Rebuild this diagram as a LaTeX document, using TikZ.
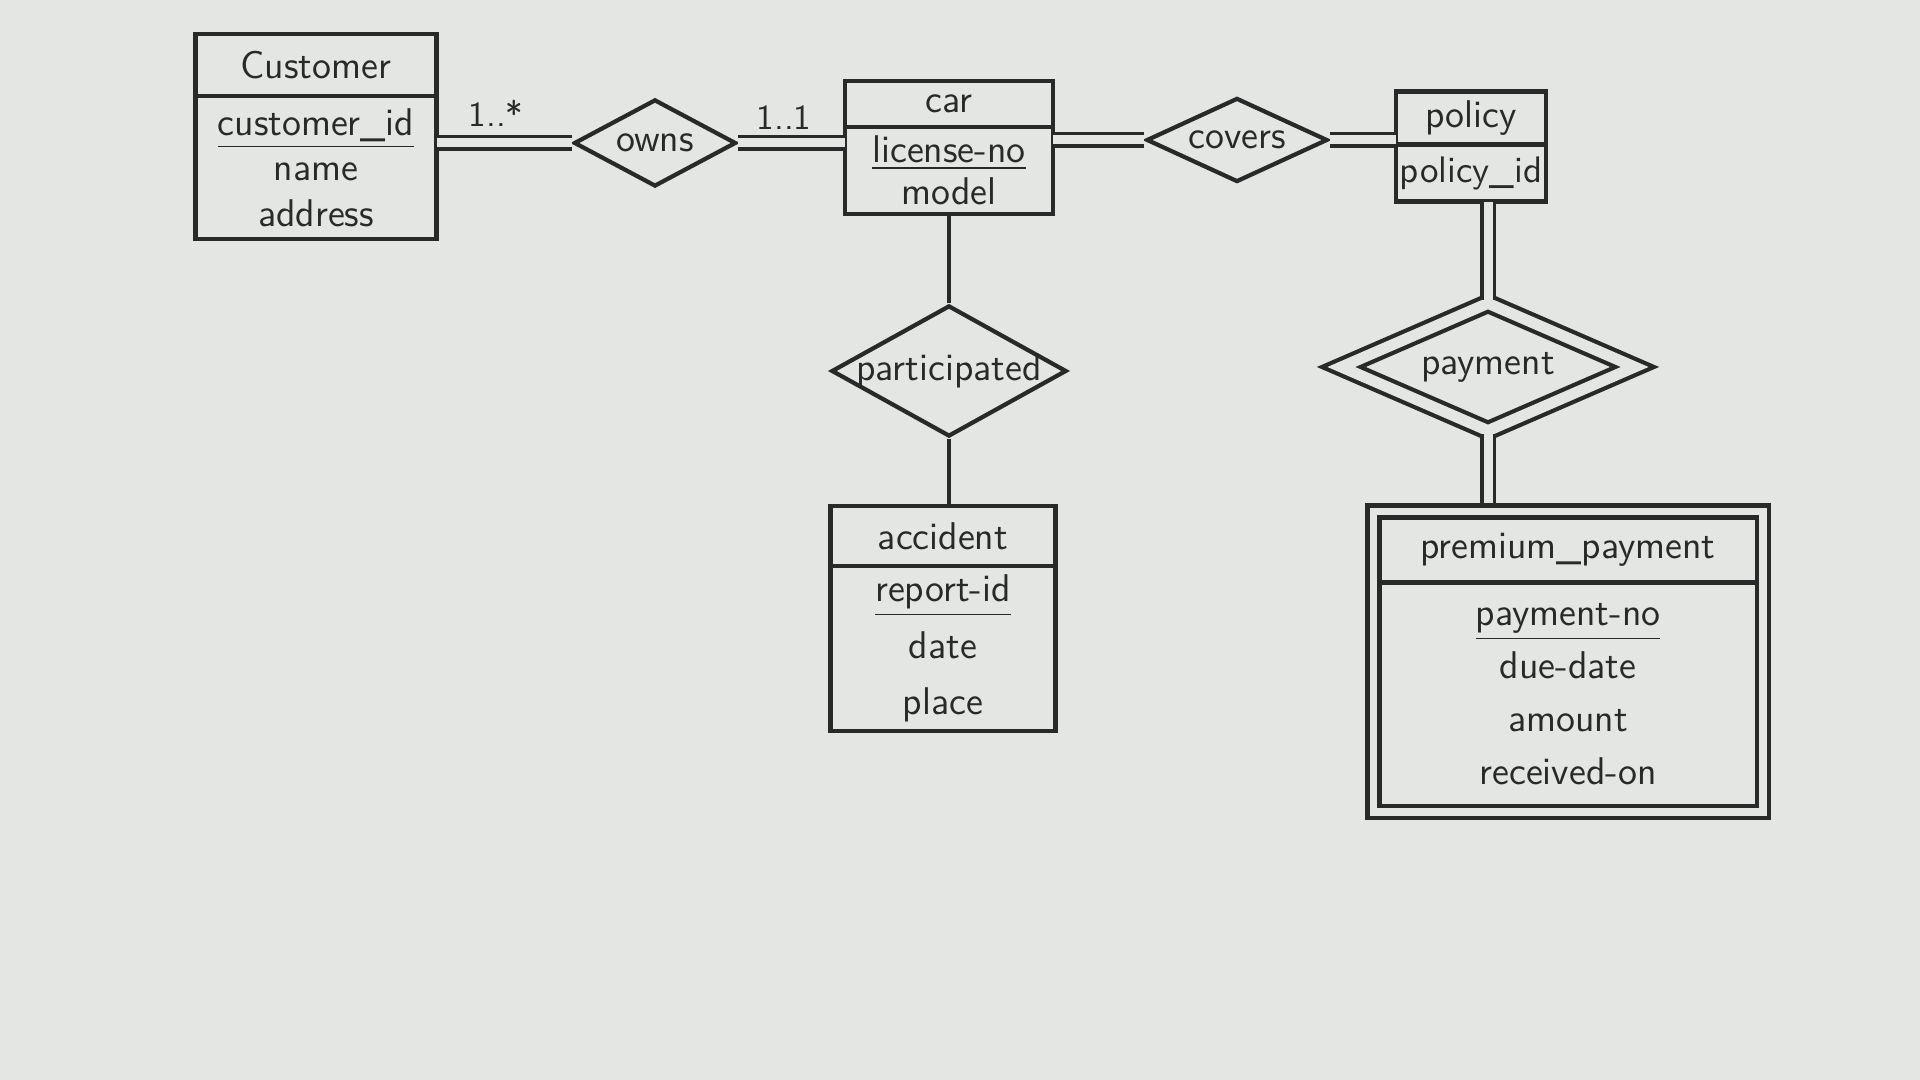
\documentclass[tikz,border=0pt]{standalone}
\definecolor{paper}{RGB}{227,230,226}
\definecolor{ink}{RGB}{40,42,42}
\usepackage{tikz}
\usetikzlibrary{shapes.geometric,fit}

\begin{document}
\begin{tikzpicture}[x=0.01cm, y=-0.01cm,
    every node/.style={font=\fontsize{11}{13}\selectfont\sffamily, text=ink},
    ent/.style={draw=ink, line width=1.2pt, inner sep=0pt, outer sep=0pt, align=center},
    rel/.style={diamond, draw=ink, line width=1.2pt, inner sep=0pt},
    weak/.style={draw=ink, line width=1.2pt, inner sep=0.12cm},
    card/.style={font=\fontsize{10}{12}\selectfont\sffamily},
    sgl/.style={draw=ink, line width=1pt},
    dbl/.style={draw=ink, line width=0.9pt, double=paper, double distance=0.09cm}]

    % Fondo
    \fill[paper] (0,0) rectangle (1920,1080);

    % Entidades
    \node[ent, minimum width=2.41cm, minimum height=0.62cm] (cust) at (316,65) {Customer};
    \node[ent, minimum width=2.41cm, minimum height=1.43cm, anchor=north] (cust-attr) at (cust.south)
        {\underline{customer\_id}\\name\\address};

    \node[ent, minimum width=2.08cm, minimum height=0.46cm] (car) at (949,104) {car};
    \node[ent, minimum width=2.08cm, minimum height=0.87cm, anchor=north,
        font=\fontsize{11}{12}\selectfont\sffamily] (car-attr) at (car.south)
        {\underline{license-no}\\model};

    \node[ent, minimum width=1.50cm, minimum height=0.53cm] (policy) at (1471,118) {policy};
    \node[ent, minimum width=1.50cm, minimum height=0.57cm, anchor=north,
        font=\fontsize{10.5}{12}\selectfont\sffamily] (policy-attr) at (policy.south)
        {policy\_id};

    \node[ent, minimum width=2.25cm, minimum height=0.60cm] (acc) at (943,536) {accident};
    \node[ent, minimum width=2.25cm, minimum height=1.65cm, anchor=north,
        font=\fontsize{11}{16}\selectfont\sffamily] (acc-attr) at (acc.south)
        {\underline{report-id}\\date\\place};

    % Entidad débil
    \node[ent, minimum width=3.77cm, minimum height=0.65cm] (pp) at (1568,550) {premium\_payment};
    \node[ent, minimum width=3.77cm, minimum height=2.23cm, anchor=north,
        font=\fontsize{11}{15}\selectfont\sffamily] (pp-attr) at (pp.south)
        {\underline{payment-no}\\due-date\\amount\\received-on};
    \node[weak, fit=(pp)(pp-attr)] (pp-box) {};

    % Relaciones
    \node[rel, minimum width=1.62cm, minimum height=0.87cm] (owns) at (655,143) {\makebox[0pt]{owns}};
    \node[rel, minimum width=1.81cm, minimum height=0.84cm] (covers) at (1237,140) {\makebox[0pt]{covers}};
    \node[rel, minimum width=2.35cm, minimum height=1.31cm] (part) at (949,371) {\makebox[0pt]{participated}};
    \node[rel, double=paper, double distance=0.11cm, minimum width=2.95cm, minimum height=1.29cm]
        (pay) at (1488,367) {\makebox[0pt]{payment}};

    % Conexiones
    \draw[dbl] (owns.west) -- (owns.west -| cust-attr.east);
    \draw[dbl] (owns.east) -- (owns.east -| car-attr.west);
    \draw[dbl] (covers.west) -- (covers.west -| car-attr.east);
    \draw[dbl] (covers.east) -- (covers.east -| policy.west);
    \draw[sgl] (part.north) -- (part.north |- car-attr.south);
    \draw[sgl] (part.south) -- (part.south |- acc.north);
    \draw[dbl] (pay.north) -- (pay.north |- policy-attr.south);
    \draw[dbl] (pay.south) -- (pay.south |- pp-box.north);

    % Cardinalidades
    \node[card] (card-cust) at (496,113) {1..*};
    \node[card] (card-car) at (784,118) {1..1};
\end{tikzpicture}
\end{document}
